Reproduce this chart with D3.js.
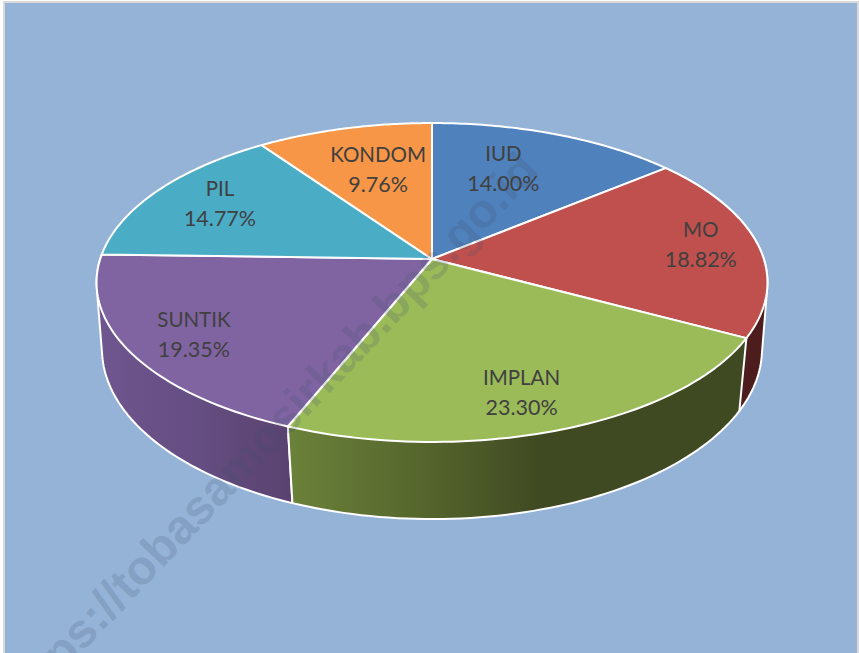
<!DOCTYPE html>
<html>
<head>
<meta charset="utf-8">
<script src="https://cdn.jsdelivr.net/npm/d3@7"></script>
<style>
  html, body { margin: 0; padding: 0; background: #fff; }
  svg { display: block; }
</style>
</head>
<body>
<div class="svg"></div>
<script>
var svgWidth = 859;
var svgHeight = 653;

var categories = ["IUD", "MO", "IMPLAN", "SUNTIK", "PIL", "KONDOM"];
var shares = [14.00, 18.82, 23.30, 19.35, 14.77, 9.76];
var topColors = ["#4f81bd", "#c0504d", "#9bbb59", "#8064a2", "#4bacc6", "#f79646"];

// label nudges from the default radial spot, in pixels
var labelNudge = [[-19, 0], [40, -3], [2, 20], [-32, 13], [-17, -6], [10, 6]];

// the tilted disc: perspective makes the near half bigger than the far half
var topPlane = { cx: 432, cy: 259, a: 156, b: 331.8, k: 0.1473 };
var bottomPlane = { cx: 432, cy: 327, a: 167.1, b: 327.2, k: 0.13 };

function project(plane, angle, f) {
  var u = Math.sin(angle) * f;
  var v = -Math.cos(angle) * f;
  var w = 1 - plane.k * v;
  return [plane.cx + plane.b * u / w, plane.cy + plane.a * v / w];
}

function arcPoints(plane, start, end) {
  return d3.range(0, 61).map(function(i) {
    return project(plane, start + (end - start) * i / 60, 1);
  });
}

var color = d3.scaleOrdinal().domain(categories).range(topColors);
var pie = d3.pie().sort(null).value(function(d) { return d; });
var slices = pie(shares);
slices.forEach(function(d, i) { d.name = categories[i]; d.share = shares[i]; d.nudge = labelNudge[i]; });

var line = d3.line();

var svg = d3.selectAll(".svg")
  .append("svg")
  .attr("width", svgWidth)
  .attr("height", svgHeight);

var defs = svg.append("defs");

function addGradient(id, stops) {
  var g = defs.append("linearGradient").attr("id", id);
  stops.forEach(function(s) {
    g.append("stop").attr("offset", s[0]).attr("stop-color", s[1]);
  });
}
addGradient("wall-MO", [[0, "#4d1c1c"], [1, "#4d1c1c"]]);
addGradient("wall-IMPLAN", [[0, "#6b823a"], [0.3, "#55652c"], [0.55, "#404a22"], [1, "#404a22"]]);
addGradient("wall-SUNTIK", [[0, "#6f568f"], [0.5, "#654e82"], [1, "#5a4270"]]);

defs.append("clipPath").attr("id", "frame")
  .append("rect").attr("x", 5).attr("y", 3).attr("width", 853).attr("height", 650);

svg.append("rect")
  .attr("x", 4).attr("y", 2)
  .attr("width", 854).attr("height", 652)
  .attr("fill", "#95b3d7")
  .attr("stroke", "#d9d9d9")
  .attr("stroke-width", 2);

// outer walls, only the three slices that face the viewer
var wallOrder = ["MO", "SUNTIK", "IMPLAN"];
svg.append("g")
  .selectAll("path")
  .data(wallOrder.map(function(n) { return slices[categories.indexOf(n)]; }))
  .enter()
  .append("path")
  .attr("d", function(d) {
    var pts = arcPoints(topPlane, d.startAngle, d.endAngle)
      .concat(arcPoints(bottomPlane, d.startAngle, d.endAngle));
    return line(d3.polygonHull(pts)) + "Z";
  })
  .attr("fill", function(d) { return "url(#wall-" + d.name + ")"; })
  .attr("stroke", "#fff")
  .attr("stroke-width", 2)
  .attr("stroke-linejoin", "round");

// top face
svg.append("g")
  .selectAll("path")
  .data(slices)
  .enter()
  .append("path")
  .attr("d", function(d) {
    var pts = [[topPlane.cx, topPlane.cy]].concat(arcPoints(topPlane, d.startAngle, d.endAngle));
    return line(pts) + "Z";
  })
  .attr("fill", function(d) { return color(d.name); })
  .attr("stroke", "#fff")
  .attr("stroke-width", 2)
  .attr("stroke-linejoin", "round");

// site watermark runs across the whole picture
svg.append("g")
  .attr("clip-path", "url(#frame)")
  .append("text")
  .text("https://tobasamosirkab.bps.go.id")
  .attr("transform", "translate(541,172) rotate(-46.3)")
  .attr("text-anchor", "end")
  .attr("font-family", "Liberation Sans, Arial, sans-serif")
  .attr("font-weight", "bold")
  .attr("font-size", 48)
  .attr("fill", "#3f4f6b")
  .attr("fill-opacity", 0.2);

var labels = svg.append("g")
  .selectAll("text")
  .data(slices)
  .enter()
  .append("text")
  .attr("font-family", "Lato, Carlito, sans-serif")
  .attr("font-size", 20.5)
  .attr("fill", "#404040")
  .attr("text-anchor", "middle")
  .attr("transform", function(d) {
    var p = project(topPlane, (d.startAngle + d.endAngle) / 2, 0.7);
    return "translate(" + (p[0] + d.nudge[0]) + "," + (p[1] + d.nudge[1]) + ")";
  });

labels.append("tspan")
  .attr("x", 0)
  .attr("y", -8)
  .text(function(d) { return d.name; });

labels.append("tspan")
  .attr("x", 0)
  .attr("y", 22)
  .attr("font-size", 21.5)
  .text(function(d) { return d.share.toFixed(2) + "%"; });
</script>
</body>
</html>
